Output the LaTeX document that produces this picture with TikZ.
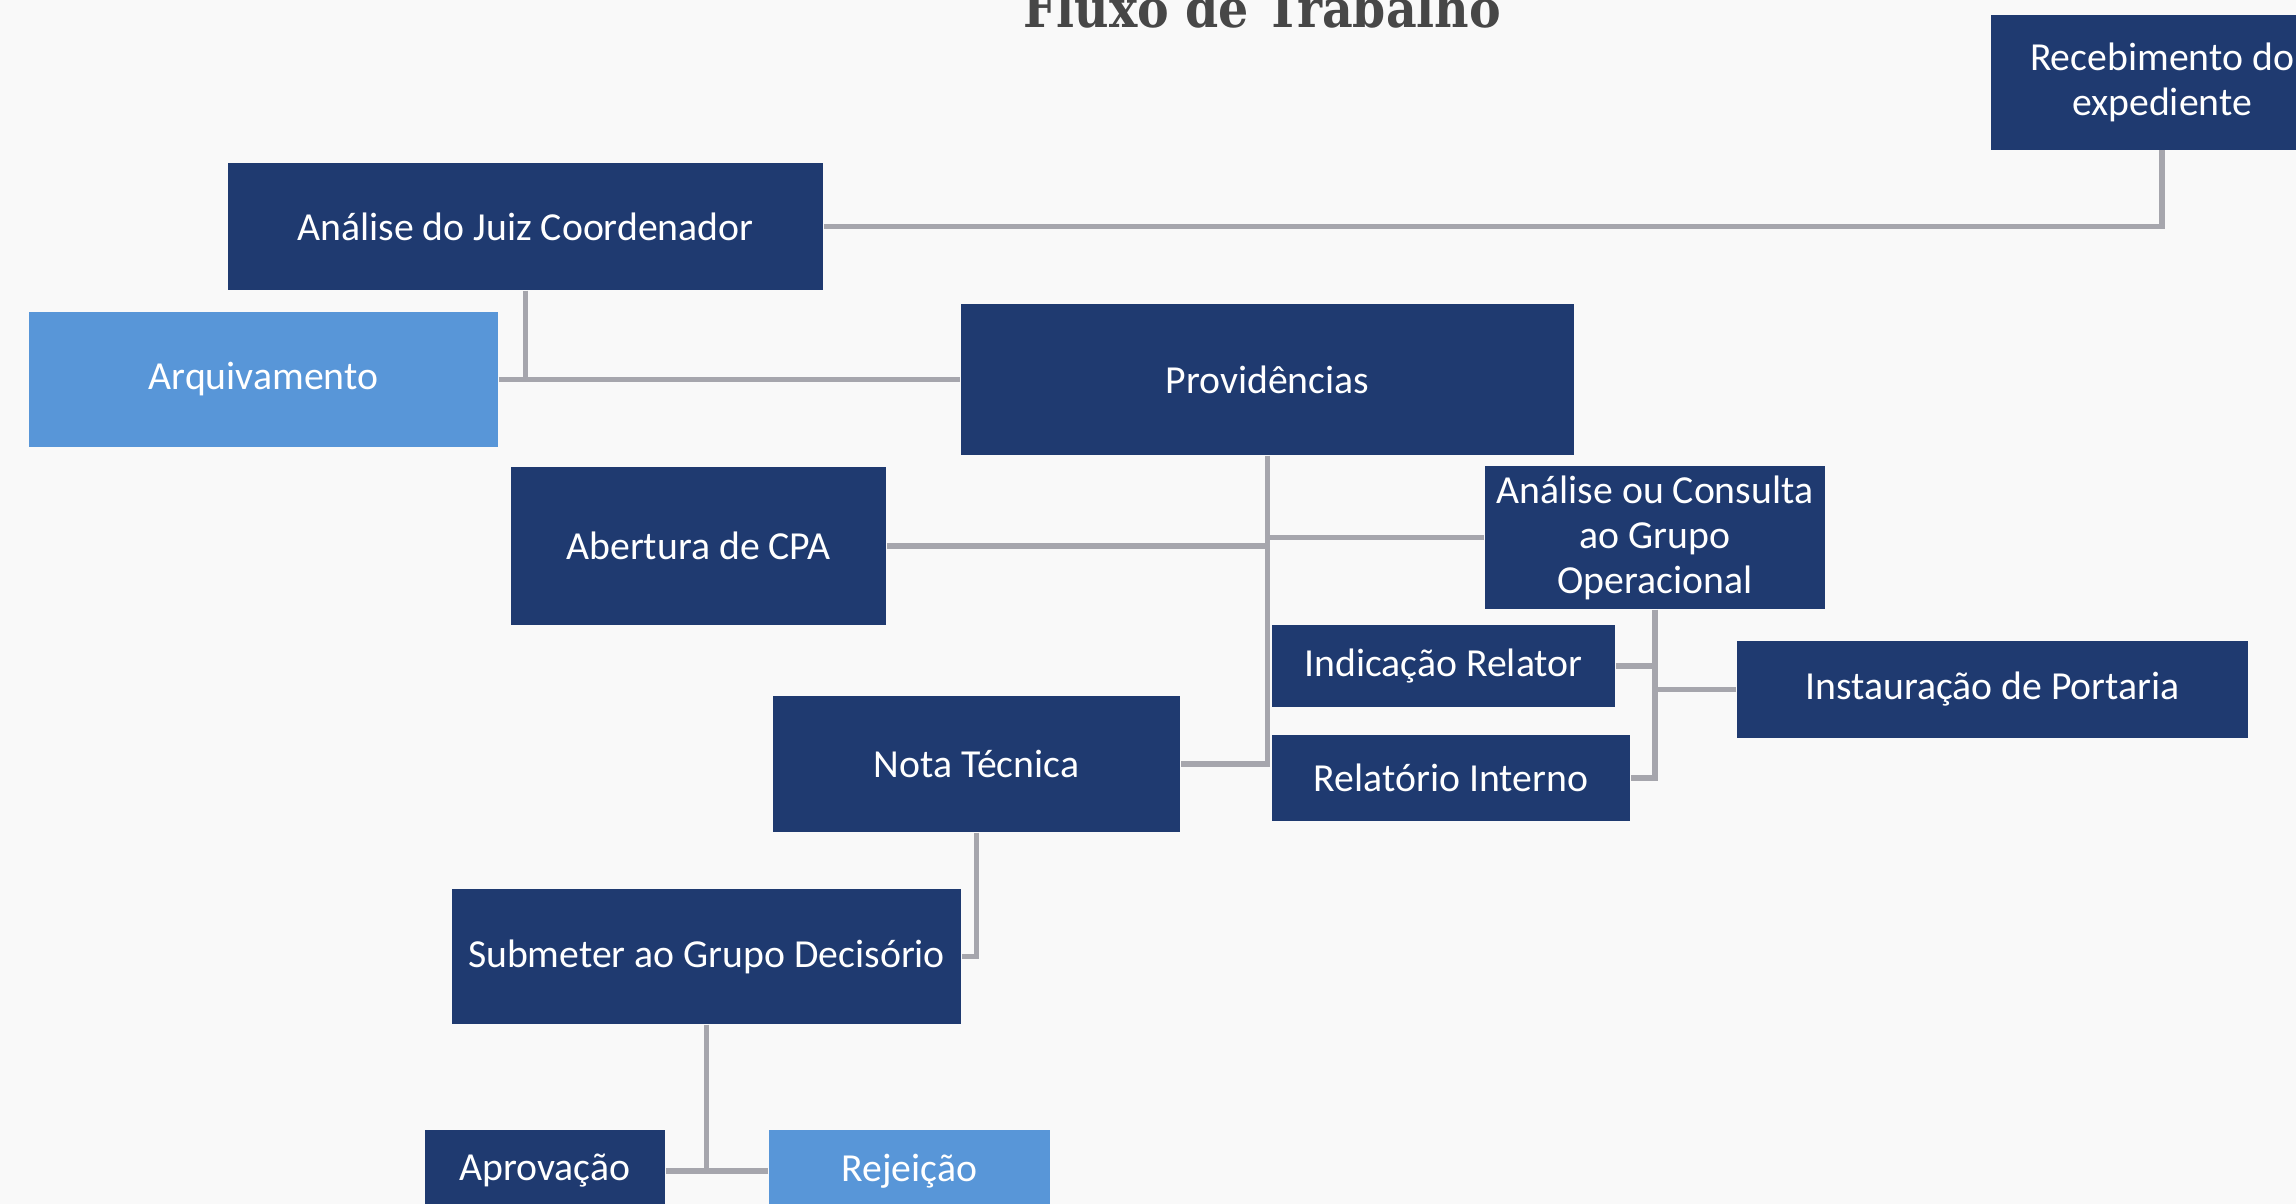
\documentclass[tikz,border=0pt]{standalone}
\usepackage{fontspec}
\setmainfont{Carlito}
\newfontfamily\titlefont{DejaVu Serif Condensed}
\usetikzlibrary{positioning}
\definecolor{boxnavy}{HTML}{1F3A70}
\definecolor{boxsky}{HTML}{5896D8}
\definecolor{linkgray}{HTML}{A6A6AD}
\definecolor{pagebg}{HTML}{F9F9F9}
\definecolor{titlegray}{HTML}{474747}

\begin{document}
\begin{tikzpicture}[x=0.01cm,y=-0.01cm,
 box/.style={rectangle,fill=boxnavy,text=white,align=center,inner sep=0pt,
   font=\fontsize{11.3}{12.8}\selectfont},
 endbox/.style={box,fill=boxsky},
 link/.style={draw=linkgray,line width=1.6pt}]
\fill[pagebg] (0,0) rectangle (2296,1204);
\useasboundingbox (0,0) rectangle (2296,1204);
\clip (0,0) rectangle (2296,1204);
\node[font=\titlefont\bfseries\fontsize{15}{15}\selectfont,text=titlegray,anchor=base]
  (title) at (1262,28) {Fluxo de Trabalho};
% Upper chain
\node[box,minimum width=3.42cm,minimum height=1.34cm] (receb) at (2162,82.5) {Recebimento do\\expediente};
\node[box,minimum width=5.95cm,minimum height=1.27cm] (juiz) at (525.5,226.5) {Análise do Juiz Coordenador};
\node[endbox,minimum width=4.69cm,minimum height=1.35cm] (arq) at (263.5,379.5) {Arquivamento};
\node[box,minimum width=6.13cm,minimum height=1.51cm] (prov) at (1267.5,379.5) {Providências};
% Branches of Providencias
\node[box,minimum width=3.75cm,minimum height=1.58cm] (cpa) at (698.5,546) {Abertura de CPA};
\node[box,minimum width=3.40cm,minimum height=1.43cm] (consulta) at (1655,537.5) {Análise ou Consulta\\ao Grupo\\Operacional};
\node[box,minimum width=4.07cm,minimum height=1.36cm] (nota) at (976.5,764) {Nota Técnica};
% Branches of the consultation
\node[box,minimum width=3.43cm,minimum height=0.82cm] (relator) at (1443.5,666) {Indicação Relator};
\node[box,minimum width=5.11cm,minimum height=0.97cm] (portaria) at (1992.5,689.5) {Instauração de Portaria};
\node[box,minimum width=3.58cm,minimum height=0.86cm] (relint) at (1451,778) {Relatório Interno};
% Decision
\node[box,minimum width=5.09cm,minimum height=1.35cm] (submeter) at (706.5,956.5) {Submeter ao Grupo Decisório};
\node[box,minimum width=2.40cm,minimum height=0.82cm] (aprov) at (545,1171) {Aprovação};
\node[endbox,minimum width=2.81cm,minimum height=0.82cm] (rejei) at (909.5,1171) {Rejeição};
% Connectors
\draw[link] (receb.south) |- (juiz.east);
\draw[link] (juiz.south) -- (juiz.south |- arq.east);
\draw[link] (arq.east) -- (prov.west);
\draw[link] (prov.south) |- (nota.east);
\draw[link] (cpa.east) -- (prov.south |- cpa.east);
\draw[link] (consulta.west) -- (prov.south |- consulta.west);
\draw[link] (consulta.south) |- (relint.east);
\draw[link] (relator.east) -- (consulta.south |- relator.east);
\draw[link] (portaria.west) -- (consulta.south |- portaria.west);
\draw[link] (nota.south) |- (submeter.east);
\draw[link] (submeter.south) -- (submeter.south |- aprov.east);
\draw[link] (aprov.east) -- (rejei.west);
\end{tikzpicture}
\end{document}
